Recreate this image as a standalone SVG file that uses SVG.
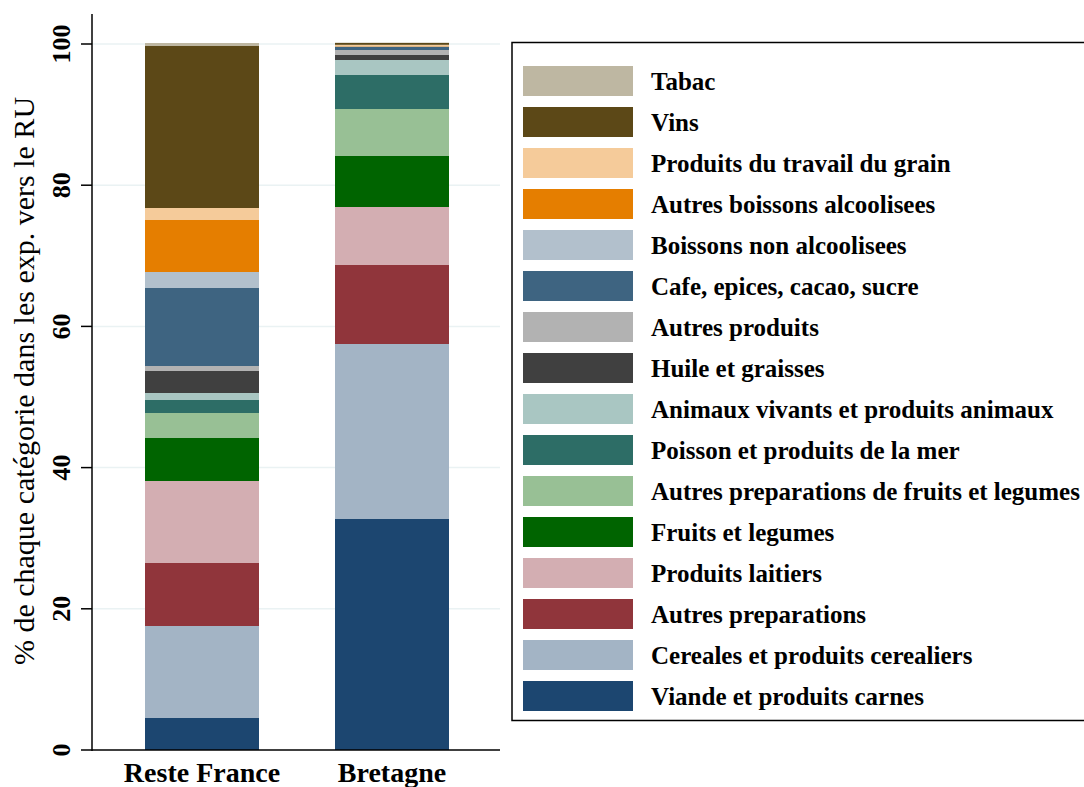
<svg xmlns="http://www.w3.org/2000/svg" width="1084" height="787" viewBox="0 0 1084 787">
<style>
text{font-family:"Liberation Serif","Times New Roman",serif;fill:#000}
.lg{font-size:25px;font-weight:bold}
.cat{font-size:28px;font-weight:bold;text-anchor:middle}
.tk{font-size:26px;font-weight:bold;text-anchor:middle}
.ttl{font-size:30px;text-anchor:middle}
.grid{stroke:#eaf2f3;stroke-width:1.5}
.ax{stroke:#000;stroke-width:1.5;fill:none}
.c1{fill:#1c4670}.c2{fill:#a3b4c5}.c3{fill:#90353b}.c4{fill:#d3aeb2}.c5{fill:#006400}.c6{fill:#98c095}.c7{fill:#2d6d66}.c8{fill:#a9c6c2}.c9{fill:#404040}.c10{fill:#b2b2b2}.c11{fill:#3e6481}.c12{fill:#b2c0cc}.c13{fill:#e57e00}.c14{fill:#f5cb9a}.c15{fill:#5c4817}.c16{fill:#beb7a2}
</style>
<rect width="1084" height="787" fill="#fff"/>
<g id="grid">
<line class="grid" x1="92" y1="44" x2="500" y2="44"/>
<line class="grid" x1="92" y1="185.2" x2="500" y2="185.2"/>
<line class="grid" x1="92" y1="326.4" x2="500" y2="326.4"/>
<line class="grid" x1="92" y1="467.6" x2="500" y2="467.6"/>
<line class="grid" x1="92" y1="608.8" x2="500" y2="608.8"/>
</g>
<g id="bar-reste-france">
<rect class="c1" x="145" y="718" width="114" height="32"/>
<rect class="c2" x="145" y="626" width="114" height="92"/>
<rect class="c3" x="145" y="563" width="114" height="63"/>
<rect class="c4" x="145" y="481" width="114" height="82"/>
<rect class="c5" x="145" y="438" width="114" height="43"/>
<rect class="c6" x="145" y="413" width="114" height="25"/>
<rect class="c7" x="145" y="400" width="114" height="13"/>
<rect class="c8" x="145" y="393" width="114" height="7"/>
<rect class="c9" x="145" y="371" width="114" height="22"/>
<rect class="c10" x="145" y="366" width="114" height="5"/>
<rect class="c11" x="145" y="288" width="114" height="78"/>
<rect class="c12" x="145" y="272" width="114" height="16"/>
<rect class="c13" x="145" y="220" width="114" height="52"/>
<rect class="c14" x="145" y="208" width="114" height="12"/>
<rect class="c15" x="145" y="46" width="114" height="162"/>
<rect class="c16" x="145" y="43" width="114" height="3"/>
</g>
<g id="bar-bretagne">
<rect class="c1" x="335" y="519" width="114" height="231"/>
<rect class="c2" x="335" y="344" width="114" height="175"/>
<rect class="c3" x="335" y="265" width="114" height="79"/>
<rect class="c4" x="335" y="207" width="114" height="58"/>
<rect class="c5" x="335" y="156" width="114" height="51"/>
<rect class="c6" x="335" y="109" width="114" height="47"/>
<rect class="c7" x="335" y="75" width="114" height="34"/>
<rect class="c8" x="335" y="60" width="114" height="15"/>
<rect class="c9" x="335" y="55" width="114" height="5"/>
<rect class="c10" x="335" y="50" width="114" height="5"/>
<rect class="c11" x="335" y="47" width="114" height="3"/>
<rect class="c12" x="335" y="46.4" width="114" height="0.6"/>
<rect class="c13" x="335" y="45.6" width="114" height="0.8"/>
<rect class="c14" x="335" y="44.8" width="114" height="0.8"/>
<rect class="c15" x="335" y="43" width="114" height="1.8"/>
<rect class="c16" x="335" y="42.6" width="114" height="0.4"/>
</g>
<g id="axes">
<line class="ax" x1="92" y1="14" x2="92" y2="751"/>
<line class="ax" x1="81" y1="750" x2="500" y2="750"/>
<line class="ax" x1="81" y1="44" x2="92" y2="44"/>
<line class="ax" x1="81" y1="185.2" x2="92" y2="185.2"/>
<line class="ax" x1="81" y1="326.4" x2="92" y2="326.4"/>
<line class="ax" x1="81" y1="467.6" x2="92" y2="467.6"/>
<line class="ax" x1="81" y1="608.8" x2="92" y2="608.8"/>
<text class="tk" transform="translate(70,44) rotate(-90)">100</text>
<text class="tk" transform="translate(70,185.2) rotate(-90)">80</text>
<text class="tk" transform="translate(70,326.4) rotate(-90)">60</text>
<text class="tk" transform="translate(70,467.6) rotate(-90)">40</text>
<text class="tk" transform="translate(70,608.8) rotate(-90)">20</text>
<text class="tk" transform="translate(70,750) rotate(-90)">0</text>
<text class="ttl" transform="translate(34,381) rotate(-90)">% de chaque catégorie dans les exp. vers le RU</text>
<text class="cat" x="202" y="782">Reste France</text>
<text class="cat" x="392" y="782">Bretagne</text>
</g>
<g id="legend">
<rect x="512" y="42.5" width="580" height="678" fill="#fff" stroke="#000" stroke-width="1.5"/>
<rect class="c16" x="523" y="66" width="110" height="30"/><text class="lg" x="651" y="90">Tabac</text>
<rect class="c15" x="523" y="107" width="110" height="30"/><text class="lg" x="651" y="131">Vins</text>
<rect class="c14" x="523" y="148" width="110" height="30"/><text class="lg" x="651" y="172">Produits du travail du grain</text>
<rect class="c13" x="523" y="189" width="110" height="30"/><text class="lg" x="651" y="213">Autres boissons alcoolisees</text>
<rect class="c12" x="523" y="230" width="110" height="30"/><text class="lg" x="651" y="254">Boissons non alcoolisees</text>
<rect class="c11" x="523" y="271" width="110" height="30"/><text class="lg" x="651" y="295">Cafe, epices, cacao, sucre</text>
<rect class="c10" x="523" y="312" width="110" height="30"/><text class="lg" x="651" y="336">Autres produits</text>
<rect class="c9" x="523" y="353" width="110" height="30"/><text class="lg" x="651" y="377">Huile et graisses</text>
<rect class="c8" x="523" y="394" width="110" height="30"/><text class="lg" x="651" y="418">Animaux vivants et produits animaux</text>
<rect class="c7" x="523" y="435" width="110" height="30"/><text class="lg" x="651" y="459">Poisson et produits de la mer</text>
<rect class="c6" x="523" y="476" width="110" height="30"/><text class="lg" x="651" y="500">Autres preparations de fruits et legumes</text>
<rect class="c5" x="523" y="517" width="110" height="30"/><text class="lg" x="651" y="541">Fruits et legumes</text>
<rect class="c4" x="523" y="558" width="110" height="30"/><text class="lg" x="651" y="582">Produits laitiers</text>
<rect class="c3" x="523" y="599" width="110" height="30"/><text class="lg" x="651" y="623">Autres preparations</text>
<rect class="c2" x="523" y="640" width="110" height="30"/><text class="lg" x="651" y="664">Cereales et produits cerealiers</text>
<rect class="c1" x="523" y="681" width="110" height="30"/><text class="lg" x="651" y="705">Viande et produits carnes</text>
</g>
</svg>
